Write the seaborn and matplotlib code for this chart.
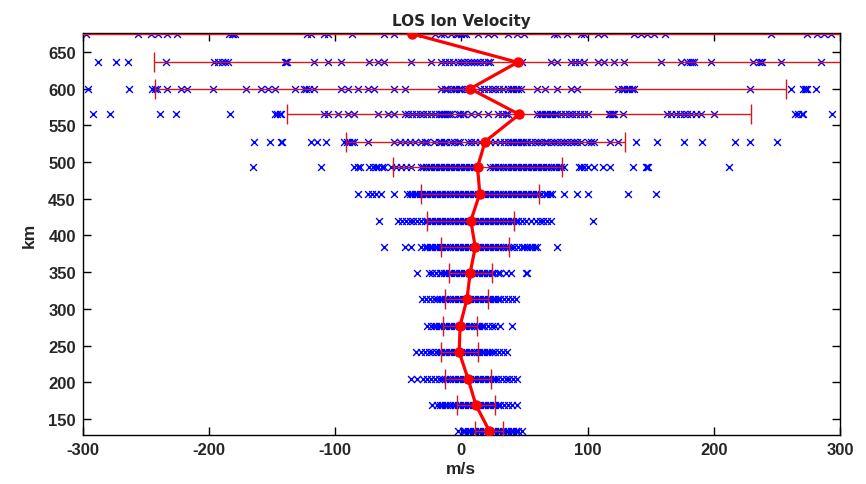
import numpy as np
import pandas as pd
import matplotlib
matplotlib.use("Agg")
import matplotlib.pyplot as plt
import seaborn as sns

# ---------------- data ----------------
altitudes = [675, 636, 600, 565, 528, 493, 457, 420, 384, 349, 313, 277, 241, 204, 169, 134]
mean_vel = [-39.4, 44.5, 7.0, 45.8, 18.8, 12.8, 14.6, 7.5, 11.0, 7.0, 4.4, -1.0, -1.7, 5.4, 11.5, 22.0]
err_vel = [350, 288, 250, 184, 110.5, 67, 46.8, 34.6, 26.8, 17, 17, 13.2, 14.5, 18, 15.2, 11]

row_675 = [-297, -256, -246, -240, -233, -225, -184, -182, -181, -179, -122, -119, -109, -106, -87,
           -61, -53, -35, -21, -16, -14, -8, -4, -3, 0, 2, 4, 13, 21, 26, 37, 44, 50, 73, 76, 84, 95,
           97, 108, 113, 137, 142, 147, 153, 161, 245, 274, 282, 287, 293]
row_636 = [-288, -274, -264, -234, -196, -193, -190, -187, -185, -140, -139, -138, -117, -106, -95,
           -73, -66, -61, -40, -24, -16, -13, -10, -7, -3, 0, 2, 5, 8, 10, 12, 15, 18, 21, 23, 48, 71,
           76, 87, 90, 93, 97, 108, 113, 121, 129, 158, 174, 179, 181, 183, 184, 198, 231, 236, 237,
           238, 253, 285]
row_600 = [-296, -263, -245, -243, -241, -233, -222, -217, -197, -171, -159, -153, -148, -132, -125,
           -123, -121, -117, -95, -90, -82, -74, -69, -53, -45, -16, -13, -11, -8, -6, -4, -2, 0, 3, 5,
           15, 18, 21, 24, 27, 30, 33, 37, 39, 41, 43, 45, 47, 60, 66, 76, 87, 92, 124, 127, 129, 131,
           133, 135, 137, 229, 261, 271, 272, 273, 274, 281]
row_565 = [-292, -278, -239, -226, -183, -148, -146, -144, -143, -109, -106, -98, -90, -85, -66, -58,
           -53, -45, -42, -39, -36, -33, -30, -27, -24, -21, -18, -16, -15, -14, -13, -11, -10, -8, -3,
           -1, 1, 2, 8, 13, 21, 29, 32, 35, 37, 60, 62, 64, 66, 68, 70, 72, 74, 76, 79, 82, 85, 88, 91,
           94, 97, 100, 117, 118, 119, 120, 121, 128, 163, 166, 170, 173, 176, 179, 182, 186, 190, 200,
           264, 267, 270, 271, 294]
row_528 = [-164, -152, -143, -142, -119, -114, -107, -93, -91, -89, -87, -85, -74, -53, -49, -45, -41,
           -37, -32, -29, -27, -22, -18, -16, -14, -12, -8, -6, -3, -1, 5, 8, 11, 15, 23, 27, 31, 34,
           37, 39, 41, 43, 45, 47, 49, 51, 52, 55, 58, 61, 63, 66, 68, 71, 73, 76, 79, 81, 84, 87, 89,
           92, 95, 100, 103, 105, 118, 124, 138, 155, 176, 191, 217, 229, 250]
row_493 = [-165, -111, -85, -82, -80, -73, -70, -68, -66, -63, -61, -56, -52, -48, -44, -40, -32, -30,
           -28, -26, -24, -22, -20, -18, -16, -14, -12, -10, -8, -6, -4, -2, 0, 2, 4, 6, 8, 10, 23, 25,
           27, 29, 31, 33, 35, 37, 39, 41, 43, 45, 47, 49, 51, 53, 55, 57, 59, 61, 63, 65, 67, 69, 71,
           73, 75, 77, 79, 81, 93, 95, 97, 100, 105, 112, 118, 136, 146, 147, 148, 212]
row_457 = [-82, -74, -71, -68, -64, -53, -43, -41, -39, -37, -35, -33, -31, -29, -27, -25, -23, -21,
           -19, -17, -15, -13, -11, -9, -7, -5, -3, -1, 1, 3, 5, 7, 9, 11, 13, 15, 17, 19, 21, 23, 25,
           27, 29, 31, 33, 35, 37, 39, 41, 43, 45, 47, 49, 51, 53, 55, 57, 59, 61, 63, 66, 68, 70, 72,
           81, 92, 100, 132, 154]
row_420 = [-65, -50, -47, -44, -41, -38, -35, -32, -29, -27, -25, -23, -21, -19, -17, -15, -13, -11,
           -9, -7, -5, -3, -1, 1, 3, 5, 7, 9, 11, 13, 15, 17, 19, 21, 23, 25, 27, 29, 31, 33, 35, 37,
           39, 41, 43, 45, 48, 51, 55, 59, 62, 65, 68, 71, 104]
row_384 = [-61, -45, -40, -32, -29, -27, -25, -23, -21, -19, -17, -15, -13, -11, -9, -7, -5, -3, -1,
           1, 3, 5, 7, 9, 11, 13, 15, 17, 19, 21, 23, 25, 27, 29, 31, 33, 35, 37, 39, 42, 45, 48, 50,
           52, 54, 56, 58, 60, 76]
row_349 = [-35, -26, -23, -20, -17, -16, -14, -12, -10, -8, -6, -4, -2, 0, 2, 4, 6, 8, 10, 12, 14, 16,
           18, 20, 22, 24, 26, 29, 31, 35, 39, 51, 52]
row_313 = [-31, -28, -25, -22, -19, -17, -15, -13, -11, -9, -7, -5, -3, -1, 1, 3, 5, 7, 9, 11, 13, 15,
           17, 19, 21, 23, 25, 27, 29, 31, 34, 37, 40, 43]
row_277 = [-27, -24, -22, -20, -18, -16, -14, -12, -10, -8, -6, -4, -2, 0, 2, 4, 6, 8, 10, 12, 14, 16,
           18, 21, 24, 27, 31, 40]
row_241 = [-36, -32, -29, -26, -23, -20, -18, -16, -14, -12, -10, -8, -6, -4, -2, 0, 2, 4, 6, 8, 10,
           12, 14, 16, 18, 20, 22, 24, 27, 30, 33, 36]
row_204 = [-40, -35, -30, -27, -24, -21, -18, -15, -13, -11, -9, -7, -5, -3, -1, 1, 3, 5, 7, 9, 11, 13,
           15, 17, 19, 21, 23, 25, 27, 29, 32, 35, 38, 41, 44]
row_169 = [-23, -19, -17, -15, -13, -11, -9, -7, -5, -3, -1, 1, 3, 5, 7, 9, 11, 13, 15, 17, 19, 21, 23,
           25, 27, 29, 31, 34, 37, 40, 44]
row_134 = [-3, 1, 3, 5, 7, 9, 11, 13, 15, 17, 19, 21, 23, 25, 27, 29, 31, 33, 35, 37, 39, 41, 43, 45, 48]

row_values = [row_675, row_636, row_600, row_565, row_528, row_493, row_457, row_420, row_384,
              row_349, row_313, row_277, row_241, row_204, row_169, row_134]

x_ticks = [-300, -200, -100, 0, 100, 200, 300]
y_ticks = [150, 200, 250, 300, 350, 400, 450, 500, 550, 600, 650]
title_text = "LOS Ion Velocity"
x_label = "m/s"
y_label = "km"

# ---------------- build tables ----------------
scatter_df = pd.DataFrame(
    [(v, a) for a, vals in zip(altitudes, row_values) for v in vals],
    columns=["vel", "alt"])
mean_df = pd.DataFrame({"vel": mean_vel, "alt": altitudes, "err": err_vel})

# ---------------- plotting ----------------
sns.set_style("ticks")
plt.rcParams["font.family"] = ["Liberation Sans", "DejaVu Sans"]

fig = plt.figure(figsize=(8.66, 4.85), dpi=100)
ax = fig.add_axes([0.0955, 0.101, 0.8745, 0.829])

sns.scatterplot(data=scatter_df, x="vel", y="alt", marker="x", color="#0000ff",
                s=24, linewidth=1.0, ax=ax, legend=False, zorder=2)

ax.errorbar(mean_df["vel"], mean_df["alt"], xerr=mean_df["err"], fmt="none",
            ecolor="#d81818", elinewidth=1.0, capsize=7, capthick=1.0, zorder=3)

sns.lineplot(data=mean_df, x="vel", y="alt", sort=False, estimator=None, color="#ff0000",
             linewidth=2.3, marker="o", markersize=6.5, markerfacecolor="#ff0000",
             markeredgecolor="#ff0000", markeredgewidth=1.0, ax=ax, zorder=4)

ax.set_xlim(-300, 300)
ax.set_ylim(128, 676)
ax.set_xticks(x_ticks)
ax.set_yticks(y_ticks)
ax.set_xticklabels([str(t) for t in x_ticks])
ax.set_yticklabels([str(t) for t in y_ticks])

ax.tick_params(axis="both", direction="in", length=6, width=1, color="black",
               top=True, right=True, labelsize=12, pad=5)
for lab in ax.get_xticklabels() + ax.get_yticklabels():
    lab.set_fontweight("bold")

for sp in ax.spines.values():
    sp.set_visible(True)
    sp.set_linewidth(1.0)
    sp.set_color("black")

ax.set_title(title_text, fontsize=11, fontweight="bold",
             family=["DejaVu Sans"], pad=6)
ax.set_xlabel(x_label, fontsize=12.5, fontweight="bold", labelpad=3)
ax.set_ylabel(y_label, fontsize=12.5, fontweight="bold", labelpad=8)

fig.savefig("out.png", dpi=100)
